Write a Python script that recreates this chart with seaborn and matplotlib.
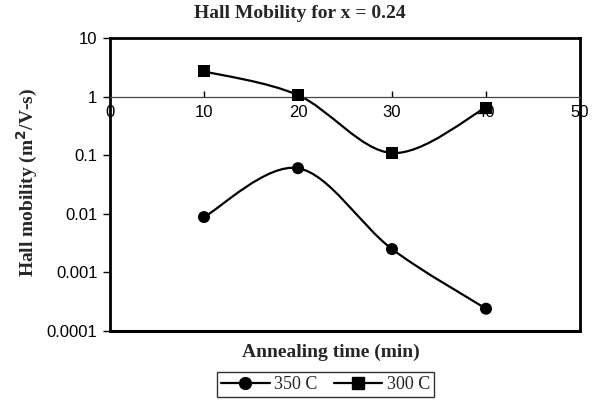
import numpy as np
import pandas as pd
import matplotlib
matplotlib.use("Agg")
import matplotlib.pyplot as plt
import seaborn as sns
from matplotlib.path import Path
from matplotlib.patches import PathPatch
from matplotlib.lines import Line2D

# data
times = [10, 20, 30, 40]
mob_350 = [0.0088, 0.060, 0.0025, 0.00024]
mob_300 = [2.7, 1.06, 0.109, 0.65]
series_labels = ["350 C", "300 C"]
x_ticks = [0, 10, 20, 30, 40, 50]
y_ticks = [0.0001, 0.001, 0.01, 0.1, 1, 10]
y_tick_labels = ["0.0001", "0.001", "0.01", "0.1", "1", "10"]

sns.set_style("white")
plt.rcParams["font.family"] = ["Liberation Sans", "DejaVu Sans"]

df = pd.DataFrame({
    "time": times * 2,
    "mob": mob_350 + mob_300,
    "series": [series_labels[0]] * len(times) + [series_labels[1]] * len(times),
})

fig = plt.figure(figsize=(5.99, 4.03), dpi=100)
ax = fig.add_axes([110 / 599, 1 - 331 / 403, 470 / 599, 293 / 403])
ax.set_yscale("log")
ax.set_xlim(0, 50)
ax.set_ylim(1e-4, 10)


def smooth_path(xs, ys):
    # Excel-like smoothed line: Bezier segments in (x, log y) space
    pts = np.column_stack([np.asarray(xs, float), np.log10(ys)])
    n = len(pts)
    verts = [pts[0]]
    codes = [Path.MOVETO]
    for i in range(n - 1):
        p0 = pts[i - 1] if i > 0 else pts[i]
        p1 = pts[i]
        p2 = pts[i + 1]
        p3 = pts[i + 2] if i + 2 < n else pts[i + 1]
        c1 = p1 + (p2 - p0) / 6.0
        c2 = p2 - (p3 - p1) / 6.0
        verts += [c1, c2, p2]
        codes += [Path.CURVE4] * 3
    v = np.array(verts)
    v[:, 1] = 10 ** v[:, 1]
    return Path(v, codes)


for ys in (mob_350, mob_300):
    ax.add_patch(PathPatch(smooth_path(times, ys), facecolor="none",
                           edgecolor="black", lw=1.6, zorder=2))

sns.scatterplot(data=df, x="time", y="mob", style="series", hue="series",
                markers={"350 C": "o", "300 C": "s"},
                palette={"350 C": "black", "300 C": "black"},
                s=75, edgecolor="black", linewidth=0, ax=ax, legend=False, zorder=3)

# axes styling
ax.spines["bottom"].set_position(("data", 1))
ax.spines["bottom"].set_linewidth(0.9)
ax.spines["bottom"].set_color("#444444")
for s in ("left", "right", "top"):
    ax.spines[s].set_linewidth(2)
    ax.spines[s].set_color("black")
ax.plot([0, 1], [0, 0], transform=ax.transAxes, color="black", lw=2.2,
        clip_on=False, zorder=5)

ax.set_xticks(x_ticks)
ax.set_xticklabels([str(t) for t in x_ticks])
ax.set_yticks(y_ticks)
ax.set_yticklabels(y_tick_labels)
ax.yaxis.set_minor_locator(matplotlib.ticker.NullLocator())
ax.tick_params(axis="y", which="major", direction="out", length=5, width=1,
               color="black", labelsize=12, labelcolor="black", left=True, pad=4)
ax.tick_params(axis="x", which="major", direction="in", length=4, width=1,
               color="black", labelsize=12, labelcolor="black", bottom=True, pad=6)

ax.set_xlabel("")
ax.set_ylabel("")

fig.text(0.5, 1 - 13 / 403, "Hall Mobility for x = 0.24", ha="center", va="center",
         family="Liberation Serif", weight="bold", fontsize=14)
fig.text(331 / 599, 1 - 352 / 403, "Annealing time (min)", ha="center", va="center",
         family="Liberation Serif", weight="bold", fontsize=14)
fig.text(27 / 599, 1 - 182 / 403, "Hall mobility (m$^\\mathbf{2}$/V-s)", ha="center",
         va="center", rotation=90, family="Liberation Serif", weight="bold", fontsize=14)

handles = [
    Line2D([], [], color="black", lw=1.6, marker="o", markersize=8.5),
    Line2D([], [], color="black", lw=1.6, marker="s", markersize=8.5),
]
leg = fig.legend(handles, series_labels, loc="center",
                 bbox_to_anchor=(325.5 / 599, 1 - 384.5 / 403),
                 ncol=2, frameon=True, fancybox=False, edgecolor="black",
                 handlelength=2.7, columnspacing=0.9, handletextpad=0.25,
                 borderpad=0.2, borderaxespad=0,
                 prop={"family": "Liberation Serif", "size": 13})
leg.get_frame().set_linewidth(1.0)

fig.savefig("out.png", dpi=100)
